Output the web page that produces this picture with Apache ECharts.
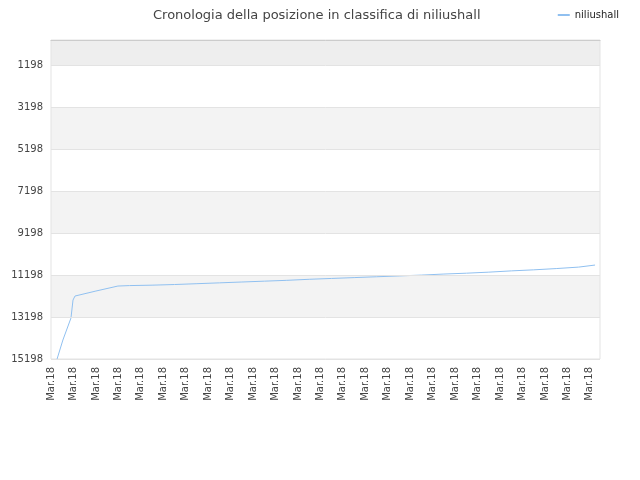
<![CDATA[<!DOCTYPE html>
<html><head><meta charset="utf-8">
<script src="https://cdn.jsdelivr.net/npm/echarts@6/dist/echarts.min.js"></script>
<style>html,body{margin:0;padding:0}#c{width:640px;height:480px}</style>
</head><body><div id="c"></div>
<script>
var xLabel = 'Mar.18';
var xPos = [0.27,0.53,0.89,0.98,1.07,2.0,2.98,3.5,4.5,5.5,6.5,7.5,8.5,9.5,10.5,11.5,12.5,13.5,14.5,15.5,16.5,17.5,18.5,19.5,20.5,21.5,22.5,23.5,24.23];
var ranks = [15198,14293,13245,12388,12198,11960,11722,11700,11680,11650,11610,11570,11530,11490,11450,11400,11360,11320,11280,11240,11200,11150,11110,11060,11000,10950,10890,10820,10722];
var yTicks = [1198,3198,5198,7198,9198,11198,13198,15198];
var greyBands = [[0,1198,'#eeeeee'],[3198,5198,'#f3f3f3'],[7198,9198,'#f3f3f3'],[11198,13198,'#f3f3f3']];

var chart = echarts.init(document.getElementById('c'));
chart.setOption({
  animation:false,
  title:{text:'Cronologia della posizione in classifica di niliushall',left:148,top:4,textStyle:{fontSize:13,fontWeight:'normal',color:'#444',fontFamily:'DejaVu Sans'}},
  legend:{right:16,top:5,itemWidth:12,itemHeight:2,itemGap:4,textStyle:{fontSize:10,color:'#222',fontFamily:'DejaVu Sans'},data:[{name:'niliushall',icon:'rect'}]},
  grid:{left:51,right:40,top:40,bottom:121,show:true,borderColor:'#e3e3e3',borderWidth:1},
  xAxis:{type:'value',min:0,max:24.45,interval:1,
    axisLine:{show:true,lineStyle:{color:'#ccc'}},axisTick:{show:false},splitLine:{show:false},
    axisLabel:{rotate:90,fontSize:10,color:'#444',fontFamily:'DejaVu Sans',showMaxLabel:false,formatter:function(){return xLabel;}}},
  yAxis:{type:'value',inverse:true,min:0,max:15198,
    axisLine:{show:false},axisTick:{show:false},splitLine:{show:false},
    axisLabel:{customValues:yTicks,fontSize:10,color:'#444',fontFamily:'DejaVu Sans',formatter:function(v){return String(v);}}},
  series:[{name:'niliushall',type:'line',showSymbol:false,
    lineStyle:{color:'#90c0f0',width:1},itemStyle:{color:'#90c0f0'},
    data:xPos.map(function(x,i){return [x,ranks[i]];}),
    markArea:{silent:true,z:-1,data:greyBands.map(function(b){return [{yAxis:b[0],itemStyle:{color:b[2]}},{yAxis:b[1]}];})},
    markLine:{silent:true,symbol:'none',label:{show:false},lineStyle:{color:'#e3e3e3',type:'solid',width:1},data:yTicks.map(function(v){return {yAxis:v};})}
  }]
});
</script></body></html>]]>
